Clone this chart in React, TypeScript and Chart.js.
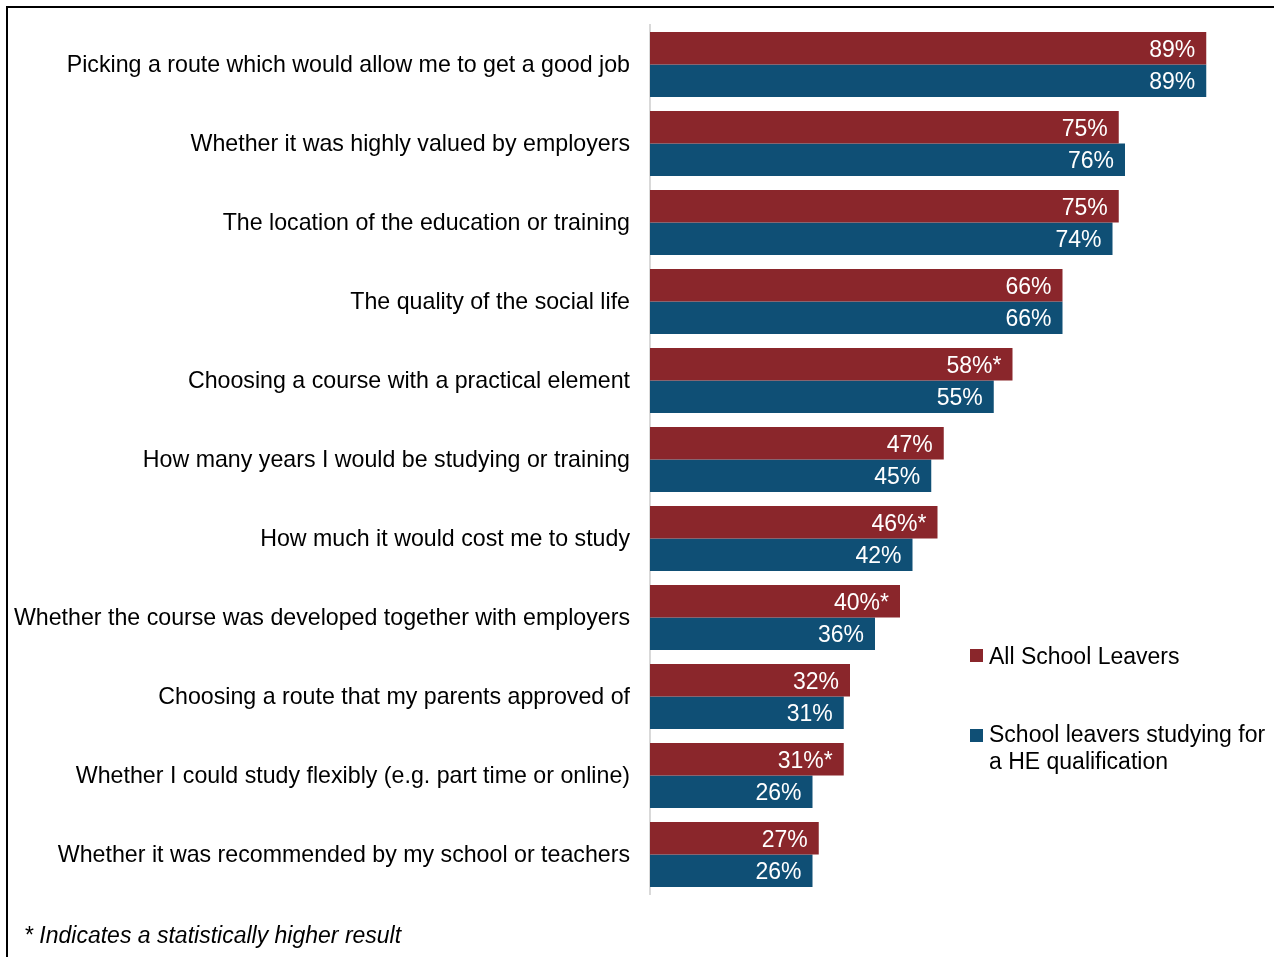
import React, { useEffect, useRef } from "react";
import { Chart, registerables } from "chart.js";

Chart.register(...registerables);

const categories = [
  "Picking a route which would allow me to get a good job",
  "Whether it was highly valued by employers",
  "The location of the education or training",
  "The quality of the social life",
  "Choosing a course with a practical element",
  "How many years I would be studying or training",
  "How much it would cost me to study",
  "Whether the course was developed together with employers",
  "Choosing a route that my parents approved of",
  "Whether I could study flexibly (e.g. part time or online)",
  "Whether it was recommended by my school or teachers",
];

const allLeavers = [89, 75, 75, 66, 58, 47, 46, 40, 32, 31, 27];
const allLeaversSignificant = [false, false, false, false, true, false, true, true, false, true, false];
const heLeavers = [89, 76, 74, 66, 55, 45, 42, 36, 31, 26, 26];
const heLeaversSignificant = [false, false, false, false, false, false, false, false, false, false, false];

const seriesNames = ["All School Leavers", "School leavers studying for a HE qualification"];
const footnote = "* Indicates a statistically higher result";

const RED = "#8A262B";
const BLUE = "#0F4F75";
const FONT = "'Liberation Sans', Arial, sans-serif";
const FS = 23;

export default function App() {
  const ref = useRef<HTMLCanvasElement | null>(null);

  useEffect(() => {
    if (!ref.current) return;
    const sig = [allLeaversSignificant, heLeaversSignificant];
    const labelPlugin = {
      id: "barLabels",
      afterDatasetsDraw(chart: any) {
        const ctx = chart.ctx;
        ctx.save();
        ctx.font = `${FS}px ${FONT}`;
        ctx.fillStyle = "#ffffff";
        ctx.textAlign = "right";
        ctx.textBaseline = "middle";
        chart.data.datasets.forEach((ds: any, di: number) => {
          const meta = chart.getDatasetMeta(di);
          meta.data.forEach((bar: any, i: number) => {
            const v = ds.data[i];
            const txt = `${v}%${sig[di][i] ? "*" : ""}`;
            ctx.fillText(txt, bar.x - 11, bar.y + 2);
          });
        });
        ctx.restore();
      },
    };
    const chart = new Chart(ref.current, {
      type: "bar",
      data: {
        labels: categories,
        datasets: [
          {
            label: seriesNames[0],
            data: allLeavers,
            backgroundColor: RED,
            borderWidth: 0,
            barPercentage: 1,
            categoryPercentage: 0.82,
          },
          {
            label: seriesNames[1],
            data: heLeavers,
            backgroundColor: BLUE,
            borderWidth: 0,
            barPercentage: 1,
            categoryPercentage: 0.82,
          },
        ],
      },
      options: {
        indexAxis: "y",
        responsive: false,
        animation: false,
        layout: { padding: { left: 0, top: 25, right: 5, bottom: 63 } },
        plugins: {
          legend: { display: false },
          tooltip: { enabled: false },
        },
        scales: {
          x: {
            display: false,
            min: 0,
            max: 100,
          },
          y: {
            afterFit: (scale: any) => {
              scale.width = 650;
              scale.paddingTop = 0;
              scale.paddingBottom = 0;
            },
            grid: { display: false, drawTicks: false },
            border: { display: true, color: "#d9d9d9", width: 2 },
            ticks: {
              padding: 20,
              color: "#000000",
              font: { family: FONT, size: 23.2 },
              crossAlign: "near",
              autoSkip: false,
              labelOffset: 1,
            },
          },
        },
      },
      plugins: [labelPlugin],
    });
    return () => chart.destroy();
  }, []);

  const textStyle: React.CSSProperties = {
    position: "absolute",
    fontFamily: FONT,
    fontSize: FS,
    lineHeight: "27px",
    color: "#000",
    whiteSpace: "nowrap",
  };

  return (
    <div
      style={{
        position: "fixed",
        left: 0,
        top: 0,
        width: 1274,
        height: 957,
        overflow: "hidden",
        background: "#fff",
      }}
    >
      <div
        style={{
          position: "absolute",
          left: 6,
          top: 6,
          width: 1300,
          height: 1000,
          borderLeft: "2px solid #000",
          borderTop: "2px solid #000",
          boxSizing: "border-box",
        }}
      />
      <canvas
        ref={ref}
        width={1280}
        height={957}
        style={{ position: "absolute", left: 0, top: 0, width: 1280, height: 957 }}
      />
      <div style={{ position: "absolute", left: 970, top: 649, width: 13, height: 13, background: RED }} />
      <div style={{ ...textStyle, left: 989, top: 643 }}>{seriesNames[0]}</div>
      <div style={{ position: "absolute", left: 970, top: 729, width: 13, height: 13, background: BLUE }} />
      <div style={{ ...textStyle, left: 989, top: 721 }}>School leavers studying for</div>
      <div style={{ ...textStyle, left: 989, top: 748 }}>a HE qualification</div>
      <div style={{ ...textStyle, left: 24, top: 922, fontStyle: "italic" }}>{footnote}</div>
    </div>
  );
}
